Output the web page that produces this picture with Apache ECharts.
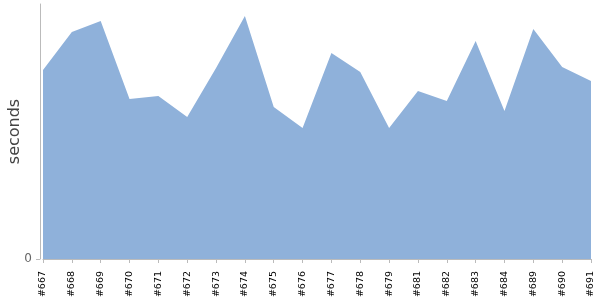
<!DOCTYPE html>
<html>
<head>
<meta charset="utf-8">
<script src="https://cdn.jsdelivr.net/npm/echarts@6/dist/echarts.min.js"></script>
<style>
  html, body { margin: 0; padding: 0; background: #fff; }
  #chart { width: 600px; height: 300px; }
</style>
</head>
<body>
<div id="chart"></div>
<script>
// build numbers on the x axis
var builds = ['#667', '#668', '#669', '#670', '#671', '#672', '#673', '#674', '#675', '#676',
  '#677', '#678', '#679', '#681', '#682', '#683', '#684', '#689', '#690', '#691']
// duration of each build, in seconds
var seconds = [189, 227, 238, 160, 163, 142, 191, 243, 152, 131,
  206, 187, 131, 168, 158, 218, 148, 230, 192, 178]
var yMax = 255

var myChart = echarts.init(document.getElementById('chart'))
var option = {
  animation: false,
  grid: {
    left: 43,
    right: 9,
    top: 4,
    bottom: 41,
    containLabel: false,
    outerBoundsMode: 'none'
  },
  xAxis: {
    type: 'category',
    data: builds,
    boundaryGap: false,
    offset: 4,
    axisLine: { lineStyle: { color: '#bbbbbb', width: 1 } },
    axisTick: { show: true, length: 4, alignWithLabel: true, lineStyle: { color: '#bbbbbb' } },
    axisLabel: {
      rotate: 90,
      interval: 0,
      margin: 8,
      color: '#000',
      fontSize: 9.5,
      fontFamily: 'DejaVu Sans'
    }
  },
  yAxis: {
    type: 'value',
    min: 0,
    max: yMax,
    interval: yMax,
    offset: 3,
    name: 'seconds',
    nameLocation: 'middle',
    nameGap: 17,
    nameMoveOverlap: false,
    nameTextStyle: { color: '#444', fontSize: 16, fontFamily: 'DejaVu Sans' },
    axisLine: { show: true, lineStyle: { color: '#bbbbbb', width: 1 } },
    axisTick: { show: true, length: 4, customValues: [0], lineStyle: { color: '#bbbbbb' } },
    axisLabel: {
      customValues: [0],
      margin: 8,
      color: '#666',
      fontSize: 12,
      fontFamily: 'DejaVu Sans'
    },
    splitLine: { show: false }
  },
  series: [{
    type: 'line',
    data: seconds,
    symbol: 'none',
    lineStyle: { width: 0 },
    areaStyle: { color: '#8fb1da', opacity: 1 }
  }]
}
myChart.setOption(option, true)
</script>
</body>
</html>
